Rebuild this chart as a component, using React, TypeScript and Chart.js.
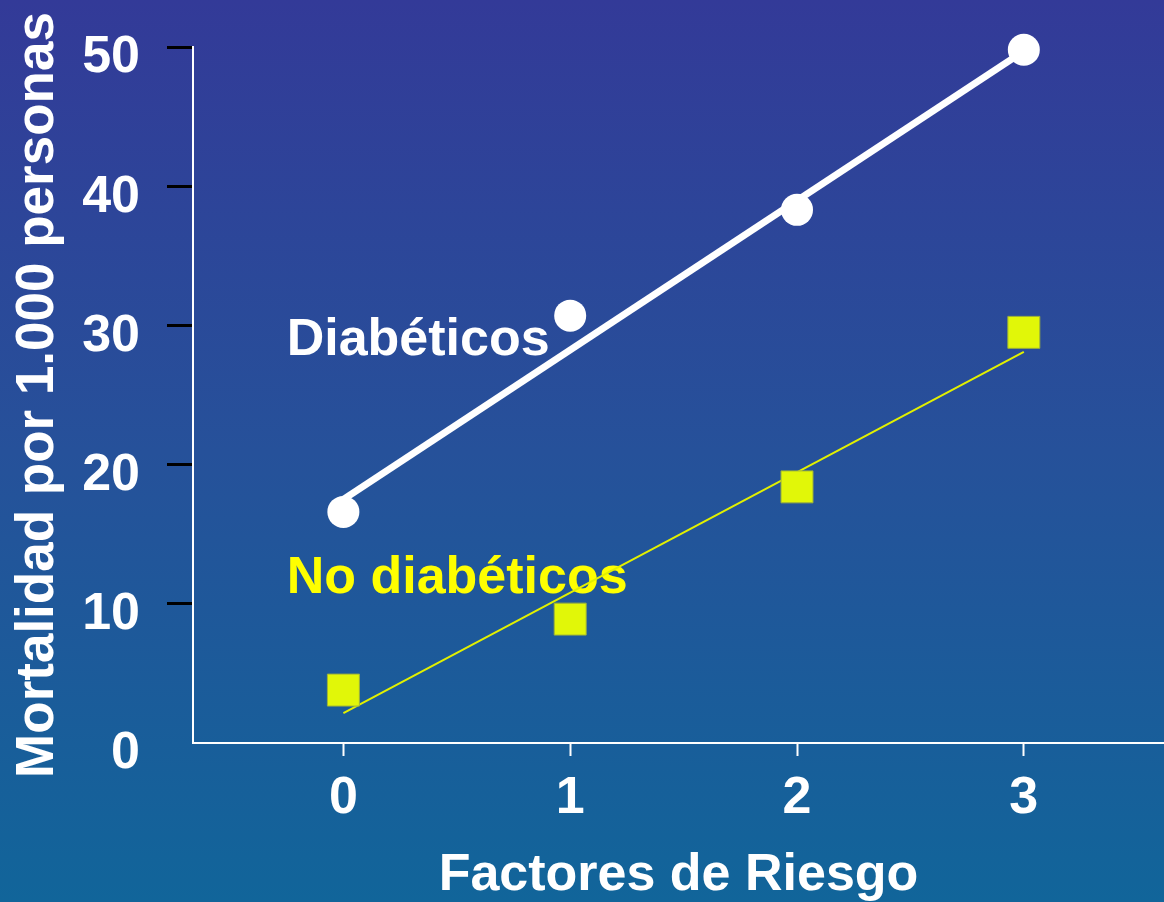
import React, { useEffect, useRef } from "react";
import { Chart, registerables } from "chart.js";

Chart.register(...registerables);

// ---- data ----
const xTicks = [0, 1, 2, 3];
const yTicks = [0, 10, 20, 30, 40, 50];
const riskFactors = [0, 1, 2, 3];
const diabeticMortality = [16.6, 30.7, 38.3, 49.8];
const nonDiabeticMortality = [3.8, 8.9, 18.4, 29.5];
const diabeticFitX = [0, 3];
const diabeticFitY = [17.5, 49.7];
const nonDiabeticFitX = [0, 3];
const nonDiabeticFitY = [2.15, 28.1];
const seriesLabels = ["Diabéticos", "No diabéticos"];
const xTitle = "Factores de Riesgo";
const yTitle = "Mortalidad por 1.000 personas";

// annotation anchors (data coordinates of text baseline start)
const labelAnchorX = [-0.25, -0.25];
const labelAnchorY = [27.87, 10.78];
const labelColors = ["#ffffff", "#ffff00"];

const FONT_FAMILY = '"Liberation Sans", Arial, sans-serif';
const bigFont = { family: FONT_FAMILY, size: 52, weight: "bold" as const, lineHeight: 1.2 };
const yTitleFont = { family: FONT_FAMILY, size: 53, weight: "bold" as const, lineHeight: 1.2 };

const toPoints = (xs: number[], ys: number[]) => xs.map((x, i) => ({ x, y: ys[i] }));

const seriesLabelPlugin = {
  id: "seriesLabels",
  beforeDatasetsDraw(chart: any) {
    const { ctx, scales } = chart;
    ctx.save();
    ctx.font = `bold 52px ${FONT_FAMILY}`;
    ctx.textAlign = "left";
    ctx.textBaseline = "alphabetic";
    seriesLabels.forEach((t, i) => {
      ctx.fillStyle = labelColors[i];
      ctx.fillText(t, scales.x.getPixelForValue(labelAnchorX[i]), scales.y.getPixelForValue(labelAnchorY[i]));
    });
    ctx.restore();
  },
};

export default function App() {
  const canvasRef = useRef<HTMLCanvasElement>(null);

  useEffect(() => {
    document.body.style.margin = "0";
    const chart = new Chart(canvasRef.current!, {
      type: "scatter",
      data: {
        datasets: [
          {
            label: seriesLabels[0],
            data: toPoints(riskFactors, diabeticMortality),
            pointStyle: "circle",
            pointRadius: 16,
            backgroundColor: "#ffffff",
            borderWidth: 0,
            showLine: false,
            clip: false,
          } as any,
          {
            label: "fit-d",
            data: toPoints(diabeticFitX, diabeticFitY),
            showLine: true,
            pointRadius: 0,
            borderColor: "#ffffff",
            borderWidth: 7,
            clip: false,
          },
          {
            label: seriesLabels[1],
            data: toPoints(riskFactors, nonDiabeticMortality),
            pointStyle: "rect",
            pointRadius: 22.6,
            backgroundColor: "#e1f708",
            borderColor: "#9db23a",
            borderWidth: 1,
            showLine: false,
            clip: false,
          },
          {
            label: "fit-nd",
            data: toPoints(nonDiabeticFitX, nonDiabeticFitY),
            showLine: true,
            pointRadius: 0,
            borderColor: "#e2f000",
            borderWidth: 2,
            clip: false,
          },
        ],
      },
      options: {
        animation: false,
        responsive: false,
        events: [],
        layout: { autoPadding: false, padding: { top: 47, right: 0, left: 0, bottom: 0 } },
        plugins: { legend: { display: false }, tooltip: { enabled: false } },
        scales: {
          x: {
            type: "linear",
            min: -0.663,
            max: 3.618,
            afterBuildTicks: (s: any) => {
              s.ticks = xTicks.map((v) => ({ value: v }));
            },
            afterFit: (s: any) => {
              s.height = 159;
              s.paddingLeft = 0;
              s.paddingRight = 0;
              s.paddingTop = 0;
              s.paddingBottom = 0;
            },
            grid: {
              drawOnChartArea: false,
              drawTicks: true,
              tickLength: 13,
              tickWidth: 2,
              tickColor: "#ffffff",
            },
            border: { color: "#ffffff", width: 2 },
            ticks: { color: "#ffffff", font: bigFont, padding: 11, maxRotation: 0, autoSkip: false },
            title: {
              display: true,
              text: xTitle,
              color: "#ffffff",
              font: bigFont,
              padding: { top: 0, bottom: -5 },
            },
          },
          y: {
            type: "linear",
            min: 0,
            max: 50,
            afterBuildTicks: (s: any) => {
              s.ticks = yTicks.map((v) => ({ value: v }));
            },
            afterFit: (s: any) => {
              s.width = 193;
              s.paddingLeft = 0;
              s.paddingRight = 0;
              s.paddingTop = 0;
              s.paddingBottom = 0;
            },
            grid: {
              drawOnChartArea: false,
              drawTicks: true,
              tickLength: 26,
              tickWidth: 3,
              tickColor: (c: any) => (c.tick && c.tick.value === 0 ? "rgba(0,0,0,0)" : "#000000"),
            },
            border: { color: "#ffffff", width: 2 },
            ticks: { color: "#ffffff", font: bigFont, padding: 27, labelOffset: 11, autoSkip: false },
            title: {
              display: true,
              text: yTitle,
              color: "#ffffff",
              font: yTitleFont,
              padding: { top: 7, bottom: 0 },
            },
          },
        },
      },
      plugins: [seriesLabelPlugin],
    });
    return () => chart.destroy();
  }, []);

  return (
    <div
      style={{
        position: "absolute",
        left: 0,
        top: 0,
        width: 1164,
        height: 902,
        background: "linear-gradient(to bottom, #333a98 0%, #26519a 50%, #11659a 100%)",
      }}
    >
      <canvas ref={canvasRef} width={1164} height={902} style={{ display: "block" }} />
    </div>
  );
}
